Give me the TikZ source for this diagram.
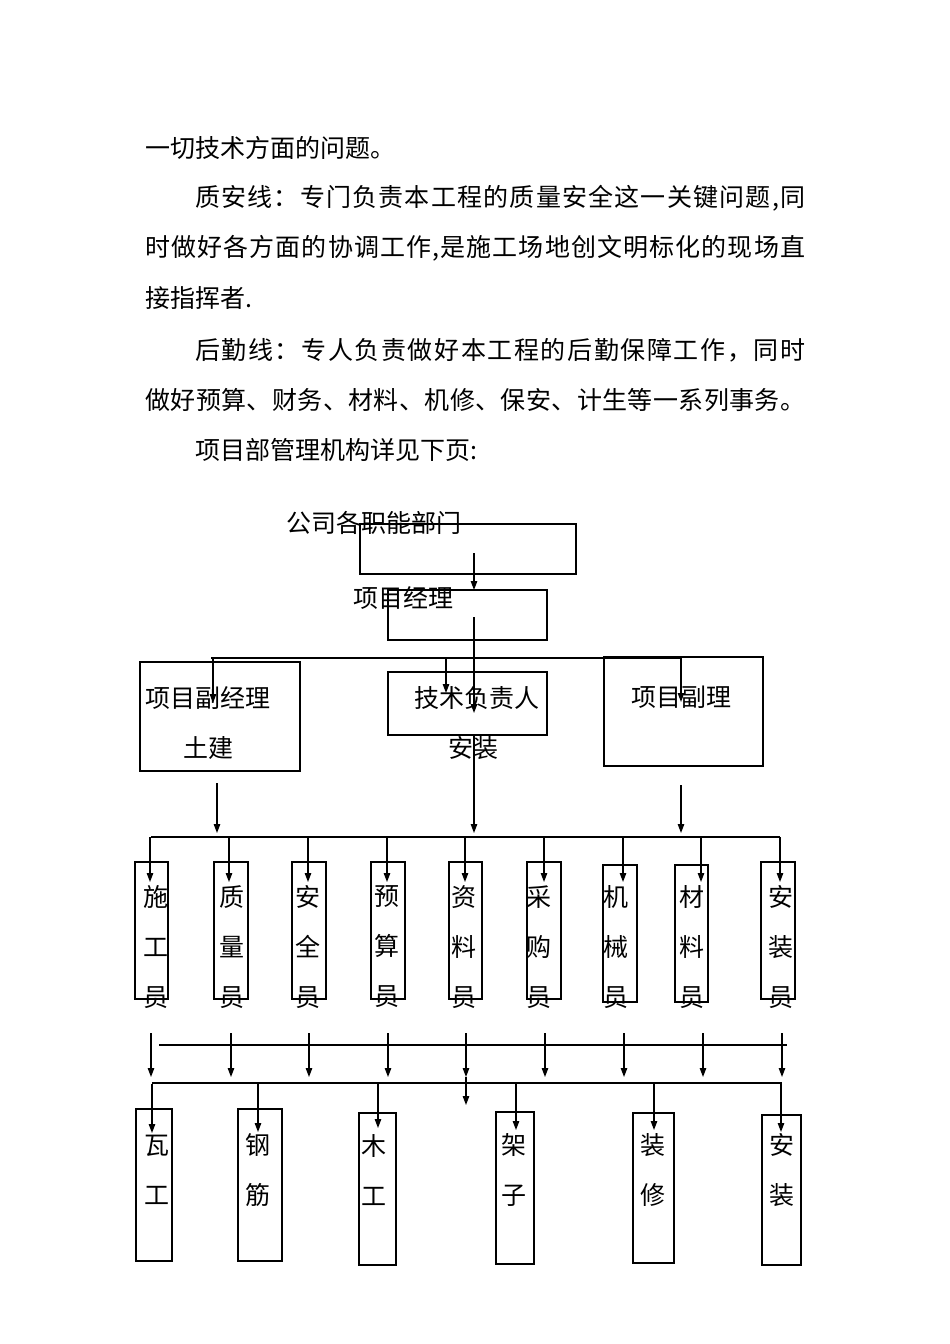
\documentclass[tikz,border=0pt]{standalone}
\usepackage{fontspec}
\newfontfamily\cjk{Noto Sans CJK SC}
\usetikzlibrary{arrows.meta,fit}

% 两端对齐: 字间插入可伸长的空白
\def\jz#1{\jzA#1\relax}
\def\jzA#1#2{#1\ifx\relax#2\else\hskip0pt plus 1fil\relax\expandafter\jzB\fi#2}
\def\jzB{\jzA}

\tikzset{
	kuang/.style={draw, line width=1.2pt, inner sep=0pt, outer sep=0pt},
	wenzi/.style={font=\cjk\fontsize{25}{50}\selectfont, inner sep=0pt},
	hang/.style={wenzi, anchor=west},
	shu/.style={wenzi, align=center},
	xian/.style={line width=1.2pt},
	jiantou/.style={line width=1.2pt, -{Triangle[length=9pt,width=6.5pt]}},
}

\begin{document}
\begin{tikzpicture}[x=1pt,y=-1pt]
			\fill[white] (0,0) rectangle (950,1344);
			% 正文
			\node[hang] (l1) at (145,148) {一切技术方面的问题。};
			\node[hang] (l2) at (195,198) {\hbox to 610pt{\jz{质安线：专门负责本工程的质量安全这一关键问题,同}}};
			\node[hang] (l3) at (145,248) {\hbox to 660pt{\jz{时做好各方面的协调工作,是施工场地创文明标化的现场直}}};
			\node[hang] (l4) at (145,298) {接指挥者.};
			\node[hang] (l5) at (195,350) {\hbox to 610pt{\jz{后勤线：专人负责做好本工程的后勤保障工作，同时}}};
			\node[hang] (l6) at (145,400) {\hbox to 660pt{\jz{做好预算、财务、材料、机修、保安、计生等一系列事务。}}};
			\node[hang] (l7) at (195,450) {项目部管理机构详见下页:};
			% 上层
			\node[kuang, fit={(360,524) (576,574)}] (bumen) {};
			\node[wenzi] (bumen-t) at (374,523) {公司各职能部门};
			\node[kuang, fit={(388,590) (547,640)}] (jingli) {};
			\node[wenzi] (jingli-t) at (403,598) {项目经理};
			\node[kuang, fit={(140,662) (300,771)}] (fujingli) {};
			\node[wenzi] (fujingli-t) at (208,698) {项目副经理};
			\node[wenzi] (tujian-t) at (208,748) {土建};
			\node[kuang, fit={(388,672) (547,735)}] (jishu) {};
			\node[wenzi] (jishu-t) at (477,698) {技术负责人};
			\node[wenzi] (anzhuang-t) at (473,748) {安装};
			\node[kuang, fit={(604,657) (763,766)}] (fuli) {};
			\node[wenzi] (fuli-t) at (681,697) {项目副理};
			\coordinate (p1) at (474,553);
			\draw[jiantou] (p1) -- (p1 |- jingli.north);
			\coordinate (p2) at (474,617);
			\coordinate (p3) at (474,713);
			\draw[jiantou] (p2) -- (p3);
			\coordinate (h1l) at (211,658);
			\coordinate (h1r) at (680,658);
			\draw[xian] (h1l) -- (h1r);
			\foreach \i/\x/\y in {1/213/703, 2/446/693, 3/681/702} {
				\coordinate (d\i a) at (\x,658);
				\coordinate (d\i b) at (\x,\y);
				\draw[jiantou] (d\i a) -- (d\i b);
			}
			% 中层
			\foreach \i/\x/\a in {1/217/783, 2/474/735, 3/681/785} {
				\coordinate (m\i a) at (\x,\a);
				\coordinate (m\i b) at (\x,833);
				\draw[jiantou] (m\i a) -- (m\i b);
			}
			\coordinate (h2l) at (151,837);
			\coordinate (h2r) at (780,837);
			\draw[xian] (h2l) -- (h2r);
			\foreach \nm/\l/\r/\t/\b in {shigong/135/168/862/999, zhiliang/214/248/862/999,
				anquan/292/326/862/999, yusuan/371/405/862/999, ziliao/449/482/862/999,
				caigou/527/561/862/999, jixie/603/637/865/1002, cailiao/675/708/865/1002,
				anzhuangyuan/761/795/862/999}
			\node[kuang, fit={(\l,\t) (\r,\b)}] (\nm) {};
			\foreach \nm/\x/\txt in {shigong/156/{施\\工\\员}, zhiliang/232/{质\\量\\员},
				anquan/308/{安\\全\\员}, yusuan/387/{预\\算\\员}, ziliao/464/{资\\料\\员},
				caigou/539/{采\\购\\员}, jixie/616/{机\\械\\员}, cailiao/692/{材\\料\\员},
				anzhuangyuan/781/{安\\装\\员}}
			\node[shu] (\nm-t) at (\x,947) {\txt};
			\foreach \nm/\x in {shigong/150, zhiliang/229, anquan/308, yusuan/387, ziliao/465,
				caigou/544, jixie/623, cailiao/701, anzhuangyuan/780} {
				\coordinate (\nm-a) at (\x,837);
				\coordinate (\nm-b) at (\x,882);
				\draw[jiantou] (\nm-a) -- (\nm-b);
			}
			% 下层
			\foreach \i/\x in {1/151, 2/231, 3/309, 4/388, 5/466, 6/545, 7/624, 8/703, 9/782} {
				\coordinate (x\i a) at (\x,1033);
				\coordinate (x\i b) at (\x,1077);
				\draw[jiantou] (x\i a) -- (x\i b);
			}
			\coordinate (x5c) at (466,1105);
			\draw[jiantou] (x5b) -- (x5c);
			\coordinate (h3l) at (159,1045);
			\coordinate (h3r) at (787,1045);
			\draw[xian] (h3l) -- (h3r);
			\coordinate (h4l) at (152,1083);
			\coordinate (h4r) at (782,1083);
			\draw[xian] (h4l) -- (h4r);
			\foreach \nm/\l/\r/\t/\b in {wagong/136/172/1109/1261, gangjin/238/282/1109/1261,
				mugong/359/396/1113/1265, jiazi/496/534/1112/1264,
				zhuangxiu/633/674/1113/1263, anzhuang/762/801/1115/1265}
			\node[kuang, fit={(\l,\t) (\r,\b)}] (\nm) {};
			\foreach \nm/\x/\txt in {wagong/157/{瓦\\工}, gangjin/258/{钢\\筋}, mugong/374/{木\\工},
				jiazi/514/{架\\子}, zhuangxiu/653/{装\\修}, anzhuang/782/{安\\装}}
			\node[shu] (\nm-t) at (\x,1170) {\txt};
			\foreach \nm/\x/\y in {wagong/152/1133, gangjin/258/1132, mugong/378/1128,
				jiazi/516/1130, zhuangxiu/654/1130, anzhuang/781/1132} {
				\coordinate (\nm-a) at (\x,1084);
				\coordinate (\nm-b) at (\x,\y);
				\draw[jiantou] (\nm-a) -- (\nm-b);
			}
		\end{tikzpicture}
\end{document}
